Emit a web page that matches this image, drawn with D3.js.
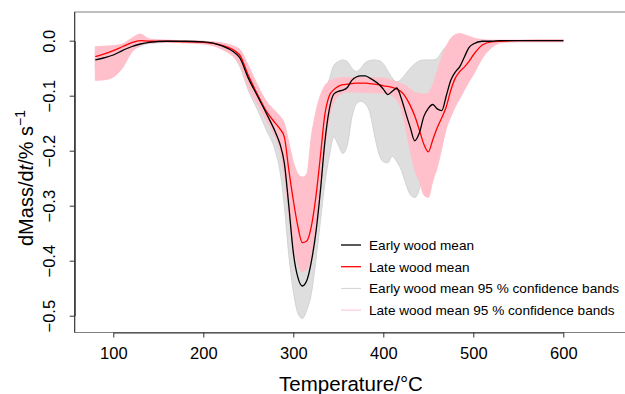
<!DOCTYPE html>
<html>
<head>
<meta charset="utf-8">
<script src="https://cdn.jsdelivr.net/npm/d3@7"></script>
<style>
  body { margin: 0; background: #fff; }
  text { font-family: "Liberation Sans", Arial, Helvetica, sans-serif; fill: #000; }
</style>
</head>
<body>
<svg id="chart" width="625" height="394"></svg>
<script>
// temperature grid (°C)
const temps = [80,90,100,110,120,130,140,160,180,200,220,240,250,260,270,280,
  285,290,295,300,305,310,315,320,325,330,335,
  340,345,350,355,360,365,370,375,380,385,390,395,400,
  405,410,415,420,425,430,435,440,445,450,455,460,465,470,475,480,485,490,495,500,
  510,520,530,550,575,600];

// early wood mean
const earlyMean = [-0.035,-0.031,-0.026,-0.018,-0.011,-0.006,-0.003,-0.001,-0.001,-0.002,
  -0.009,-0.030,-0.068,-0.100,-0.132,-0.166,
  -0.187,-0.222,-0.300,-0.385,-0.430,-0.446,-0.436,-0.402,-0.350,-0.275,-0.185,
  -0.125,-0.097,-0.092,-0.090,-0.085,-0.072,-0.066,-0.064,-0.064,-0.068,-0.073,-0.079,-0.088,
  -0.098,-0.092,-0.086,-0.105,-0.132,-0.158,-0.182,-0.168,-0.138,-0.123,-0.116,-0.124,-0.127,-0.100,-0.072,-0.057,-0.047,-0.030,-0.013,-0.006,
  -0.001,-0.001,0,0,0,0];

// late wood mean
const lateMean = [-0.029,-0.024,-0.018,-0.011,-0.004,0.000,-0.001,-0.001,-0.002,-0.003,
  -0.008,-0.025,-0.063,-0.097,-0.128,-0.150,
  -0.160,-0.175,-0.235,-0.290,-0.337,-0.367,-0.364,-0.338,-0.285,-0.212,-0.135,
  -0.100,-0.089,-0.083,-0.080,-0.079,-0.078,-0.077,-0.077,-0.077,-0.078,-0.079,-0.080,-0.082,
  -0.083,-0.085,-0.088,-0.093,-0.103,-0.118,-0.137,-0.162,-0.188,-0.202,-0.180,-0.158,-0.140,-0.120,-0.090,-0.068,-0.056,-0.048,-0.038,-0.026,
  -0.008,-0.002,-0.001,0,0,0];

// early wood 95 % band (upper / lower)
const earlyHi = [-0.020,-0.018,-0.015,-0.010,-0.005,-0.002,-0.001,0.000,0.000,-0.001,
  -0.005,-0.018,-0.050,-0.085,-0.115,-0.140,
  -0.155,-0.172,-0.205,-0.255,-0.285,-0.300,-0.290,-0.230,-0.170,-0.120,-0.095,
  -0.070,-0.045,-0.038,-0.035,-0.038,-0.050,-0.056,-0.050,-0.040,-0.036,-0.035,-0.036,-0.042,
  -0.055,-0.068,-0.075,-0.070,-0.060,-0.050,-0.042,-0.037,-0.035,-0.035,-0.035,-0.032,-0.020,-0.010,-0.004,-0.001,0,0,0,0,
  0,0,0,0,0,0];
const earlyLo = [-0.050,-0.047,-0.040,-0.030,-0.018,-0.010,-0.005,-0.003,-0.003,-0.004,
  -0.013,-0.045,-0.090,-0.125,-0.162,-0.200,
  -0.235,-0.300,-0.390,-0.455,-0.495,-0.505,-0.490,-0.460,-0.400,-0.330,-0.260,
  -0.210,-0.175,-0.190,-0.205,-0.190,-0.140,-0.115,-0.110,-0.115,-0.130,-0.170,-0.205,-0.220,
  -0.222,-0.210,-0.220,-0.235,-0.260,-0.280,-0.285,-0.270,-0.225,-0.175,-0.155,-0.150,-0.140,-0.118,-0.095,-0.075,-0.058,-0.040,-0.025,-0.014,
  -0.005,-0.002,-0.001,0,0,0];

// late wood 95 % band (upper / lower)
const lateHi = [-0.011,-0.010,-0.009,-0.006,0.004,0.012,0.003,0.001,0.000,-0.001,
  -0.004,-0.015,-0.045,-0.080,-0.110,-0.128,
  -0.137,-0.150,-0.185,-0.220,-0.242,-0.248,-0.242,-0.175,-0.130,-0.100,-0.082,
  -0.074,-0.070,-0.068,-0.067,-0.067,-0.067,-0.067,-0.067,-0.067,-0.067,-0.067,-0.068,-0.068,
  -0.070,-0.072,-0.075,-0.078,-0.082,-0.088,-0.094,-0.096,-0.097,-0.095,-0.080,-0.055,-0.030,-0.010,0.004,0.011,0.013,0.011,0.008,0.005,
  0.002,0.001,0.001,0.001,0.002,0.002];
const lateLo = [-0.072,-0.071,-0.066,-0.050,-0.022,-0.008,-0.004,-0.003,-0.004,-0.006,
  -0.015,-0.042,-0.085,-0.115,-0.145,-0.175,
  -0.198,-0.245,-0.315,-0.372,-0.405,-0.420,-0.415,-0.390,-0.340,-0.270,-0.195,
  -0.140,-0.112,-0.100,-0.095,-0.093,-0.093,-0.093,-0.094,-0.094,-0.094,-0.095,-0.095,-0.095,
  -0.097,-0.100,-0.108,-0.125,-0.160,-0.200,-0.235,-0.255,-0.280,-0.285,-0.255,-0.230,-0.195,-0.160,-0.138,-0.120,-0.105,-0.090,-0.075,-0.062,
  -0.032,-0.013,-0.004,-0.002,-0.002,-0.002];

const xTicks = [100, 200, 300, 400, 500, 600];
const yTicks = [0, -0.1, -0.2, -0.3, -0.4, -0.5];
const legendLabels = ["Early wood mean", "Late wood mean",
  "Early wood mean 95 % confidence bands", "Late wood mean 95 % confidence bands"];
const legendColors = ["#000", "#ff0000", "#d3d3d3", "#ffc0cb"];

const svg = d3.select("#chart");
const plotL = 74.7, plotR = 627, plotT = 12, plotB = 332.5;

const x = d3.scaleLinear().domain([100, 600]).range([113.3, 563.3]);
const y = d3.scaleLinear().domain([0, -0.5]).range([40.7, 315.7]);

const rows = temps.map((t, i) => ({
  t, em: earlyMean[i], lm: lateMean[i],
  eh: earlyHi[i], el: earlyLo[i], lh: lateHi[i], ll: lateLo[i]
}));

const band = (lo, hi) => d3.area()
  .x(d => x(d.t)).y0(d => y(d[lo])).y1(d => y(d[hi]))
  .curve(d3.curveMonotoneX);
const line = key => d3.line()
  .x(d => x(d.t)).y(d => y(d[key]))
  .curve(d3.curveMonotoneX);

// bands
svg.append("path").datum(rows).attr("d", band("el", "eh"))
  .attr("fill", "#d3d3d3").attr("fill-opacity", 0.75)
  .attr("stroke", "#d3d3d3").attr("stroke-width", 1);
svg.append("path").datum(rows).attr("d", band("ll", "lh"))
  .attr("fill", "#ffc0cb").attr("stroke", "#ffc0cb").attr("stroke-width", 1);

// means
svg.append("path").datum(rows).attr("d", line("lm"))
  .attr("fill", "none").attr("stroke", "#ff0000").attr("stroke-width", 1.3);
svg.append("path").datum(rows).attr("d", line("em"))
  .attr("fill", "none").attr("stroke", "#000").attr("stroke-width", 1.3);

// box
svg.append("rect")
  .attr("x", plotL).attr("y", plotT)
  .attr("width", plotR - plotL).attr("height", plotB - plotT)
  .attr("fill", "none").attr("stroke", "#808080").attr("stroke-width", 1);

// x axis
const gx = svg.append("g")
  .attr("transform", `translate(0,${plotB})`)
  .call(d3.axisBottom(x).tickValues(xTicks).tickSize(5).tickPadding(10).tickSizeOuter(0));
gx.select(".domain").attr("stroke", "#333");
gx.selectAll(".tick line").attr("stroke", "#333");
gx.selectAll("text").style("font-size", "16.5px")
  .style("font-family", "'Liberation Sans', Arial, sans-serif");

// y axis
const gy = svg.append("g")
  .attr("transform", `translate(${plotL},0)`)
  .call(d3.axisLeft(y).tickValues(yTicks).tickSize(5).tickSizeOuter(0)
    .tickFormat(d => (d < 0 ? "\u2212" : "") + Math.abs(d).toFixed(1)));
gy.select(".domain").attr("stroke", "#333");
gy.selectAll(".tick line").attr("stroke", "#333");
gy.selectAll("text")
  .attr("transform", "rotate(-90)")
  .attr("x", 0).attr("y", -19.3).attr("dy", null)
  .attr("text-anchor", "middle")
  .style("font-size", "16.5px")
  .style("font-family", "'Liberation Sans', Arial, sans-serif");
// left side drawn dark across full height
svg.append("line").attr("x1", plotL).attr("x2", plotL).attr("y1", plotT).attr("y2", plotB)
  .attr("stroke", "#333");

// axis titles
svg.append("text")
  .attr("x", 351).attr("y", 391)
  .attr("text-anchor", "middle")
  .style("font-size", "20.5px")
  .text("Temperature/\u00b0C");

const yt = svg.append("text")
  .attr("transform", "translate(33,178) rotate(-90)")
  .attr("text-anchor", "middle")
  .style("font-size", "20px");
yt.append("tspan").text("dMass/d");
yt.append("tspan").style("font-style", "italic").text("t");
yt.append("tspan").text("/% s");
yt.append("tspan").attr("dy", -8).style("font-size", "14px").text("\u22121");

// legend
const lg = svg.append("g");
legendLabels.forEach((lab, i) => {
  const cy = 245 + i * 21.7;
  lg.append("line").attr("x1", 341).attr("x2", 361).attr("y1", cy).attr("y2", cy)
    .attr("stroke", legendColors[i]).attr("stroke-width", i < 2 ? 1.3 : 1);
  lg.append("text").attr("x", 369).attr("y", cy + 5)
    .style("font-size", "13.6px").text(lab);
});
</script>
</body>
</html>
